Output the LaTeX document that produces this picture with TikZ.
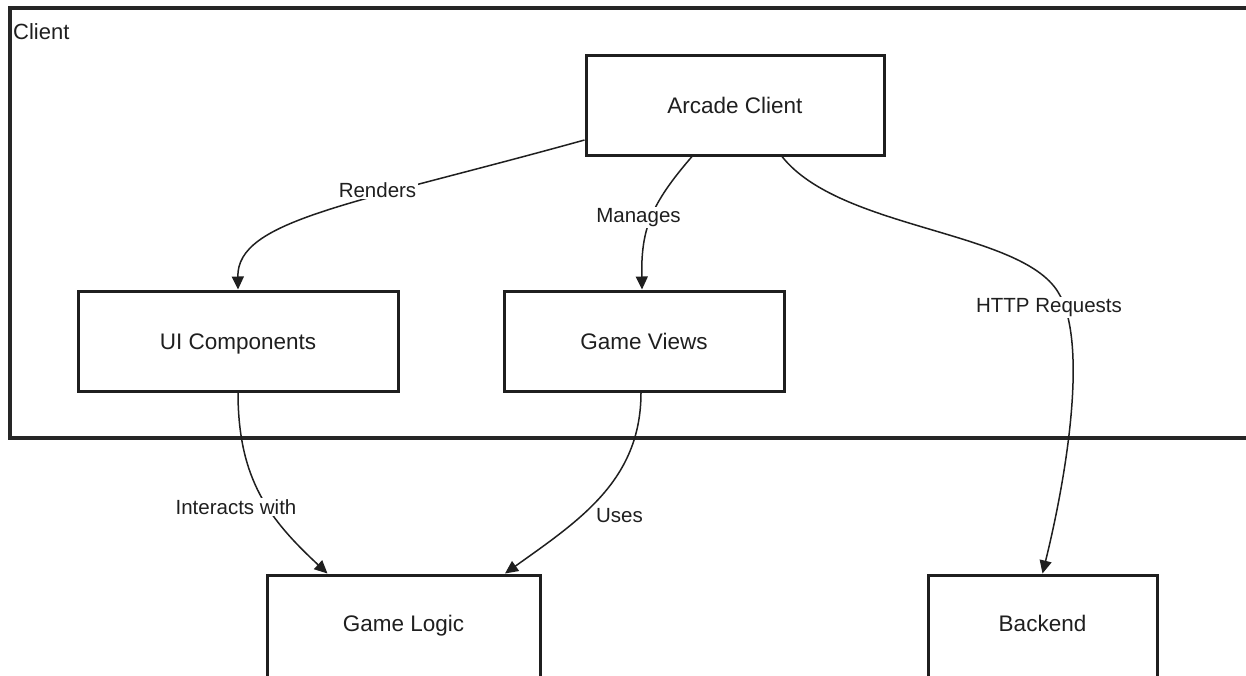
\documentclass[tikz,border=0pt]{standalone}
\usepackage{fontspec}
\setmainfont{Liberation Sans}
\usetikzlibrary{arrows.meta}
\begin{document}
\begin{tikzpicture}[x=1pt,y=-1pt,
  box/.style={draw=black!88, line width=3pt, fill=white, inner sep=0pt,
    text height=16pt, text depth=0pt, text=black!88,
    font=\fontsize{22.5}{27}\selectfont},
  link/.style={draw=black!88, line width=1.5pt,
    -{Triangle[length=13pt,width=12pt]}},
  lbl/.style={fill=white, inner sep=1.5pt, anchor=base, text=black!88,
    font=\fontsize{20.5}{24}\selectfont}]
\useasboundingbox (0,0) rectangle (1246,675);
\clip (0,0) rectangle (1246,675);

% client group frame
\draw[line width=3.5pt, draw=black!85] (10,8) rectangle (1262,438);
\node[anchor=base west, inner sep=0pt, text=black!88,
  font=\fontsize{22}{26}\selectfont] (clientlbl) at (13,39.3) {Client};

% components
\node[box, minimum width=298pt, minimum height=100pt] (arcade) at (735,105) {Arcade Client};
\node[box, minimum width=320pt, minimum height=100pt] (ui) at (238,341) {UI Components};
\node[box, minimum width=280pt, minimum height=100pt] (views) at (644,341) {Game Views};
\node[box, minimum width=273pt, minimum height=102pt, text depth=6pt] (logic) at (403.5,626) {Game Logic};
\node[box, minimum width=229pt, minimum height=102pt, text depth=6pt] (backend) at (1042.5,626) {Backend};

% connectors
\draw[link] ([yshift=-35pt]arcade.west) .. controls (350,205) and (237,220) .. (ui.north);
\draw[link] ([xshift=-43pt]arcade.south) .. controls (650,205) and (641,230) .. ([xshift=-2pt]views.north);
\draw[link] ([xshift=47pt]arcade.south) .. controls (840,230) and (1020,230) .. (1058,292)
  .. controls (1088,340) and (1068,470) .. (backend.north);
\draw[link] (ui.south) .. controls (238,480) and (270,520) .. ([xshift=-76pt]logic.north);
\draw[link] ([xshift=-3pt]views.south) .. controls (641,480) and (580,520) .. ([xshift=101.5pt]logic.north);

% connector labels
\node[lbl] (lrenders) at (377.5,197) {Renders};
\node[lbl] (lmanages) at (638.5,222.3) {Manages};
\node[lbl] (lhttp) at (1049,312.7) {HTTP Requests};
\node[lbl] (linteracts) at (236,514) {Interacts with};
\node[lbl] (luses) at (619.5,522.7) {Uses};
\end{tikzpicture}
\end{document}
